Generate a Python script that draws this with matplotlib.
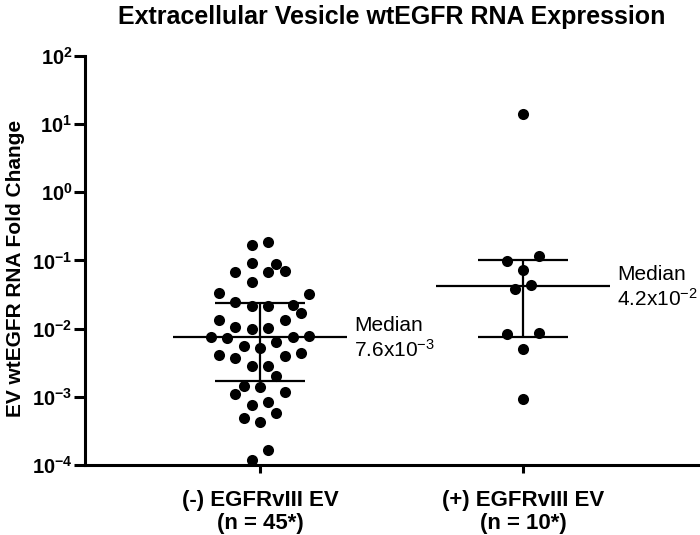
import numpy as np
import matplotlib
matplotlib.use("Agg")
import matplotlib.pyplot as plt
from matplotlib.ticker import FixedLocator, FuncFormatter, NullLocator

plt.rcParams['font.family'] = ['Liberation Sans', 'DejaVu Sans']
plt.rcParams['mathtext.fontset'] = 'custom'
plt.rcParams['mathtext.rm'] = 'Liberation Sans'
plt.rcParams['mathtext.bf'] = 'Liberation Sans:bold'
plt.rcParams['mathtext.it'] = 'Liberation Sans:italic'

# values
groups = ["(-) EGFRvIII EV", "(+) EGFRvIII EV"]
group_n = ["(n = 45*)", "(n = 10*)"]

neg_values = [0.168, 0.184, 0.0906, 0.0893, 0.0682, 0.0675, 0.0705, 0.0477,
              0.0336, 0.0318, 0.0248, 0.0214, 0.0214, 0.0222, 0.0168, 0.01336,
              0.01336, 0.01066, 0.00986, 0.0103, 0.0076, 0.0072, 0.00745, 0.00787,
              0.00561, 0.00525, 0.0063, 0.0041, 0.00374, 0.0040, 0.00434, 0.00283,
              0.00283, 0.00204, 0.00146, 0.00141, 0.0011, 0.00116, 0.00076, 0.00085,
              0.00058, 0.00049, 0.00042, 0.000166, 0.000119]
pos_values = [13.8, 0.0986, 0.1156, 0.0721, 0.0384, 0.043, 0.0083, 0.0087,
              0.00506, 0.000916]

# swarm column of each point (layout)
neg_slots = [-1, 1, -1, 2, -3, 1, 3, -1, -5, 6, -3, -1, 1, 4, 5, -5, 3, -3, -1, 1,
             -6, -4, 4, 6, -2, 0, 2, -5, -3, 3, 5, -1, 1, 2, -2, 0, -3, 3, -1, 1,
             2, -2, 0, 1, -1]
pos_slots = [0, -2, 2, 0, -1, 1, -2, 2, 0, 0]

medians = [7.6e-3, 4.2e-2]
median_text = ["Median\n7.6x10$^{-3}$", "Median\n4.2x10$^{-2}$"]
q1 = [1.7e-3, 7.45e-3]
q3 = [2.4e-2, 1.02e-1]

fig = plt.figure(figsize=(7, 5.35), dpi=100)
ax = fig.add_axes([85/700, 70/535, 613/700, 409.3/535])

slot_w = 0.03125
for i, (vals, slots) in enumerate([(neg_values, neg_slots), (pos_values, pos_slots)]):
    xs = i + np.array(slots) * slot_w
    ax.scatter(xs, vals, s=64, color="black", linewidths=0, zorder=3)
    ax.hlines(medians[i], i - 0.331, i + 0.331, color="black", lw=1.6, zorder=2)
    ax.hlines([q1[i], q3[i]], i - 0.171, i + 0.171, color="black", lw=1.6, zorder=2)
    ax.vlines(i, q1[i], q3[i], color="black", lw=1.6, zorder=2)
    ax.annotate(median_text[i], xy=(i + 0.331, medians[i]), xytext=(5, -1),
                textcoords="offset points", ha="left", va="center",
                fontsize=15, linespacing=1.2)

ax.set_yscale("log")
ax.set_ylim(1e-4, 1e2)
ax.set_xlim(-0.665, 1.665)
ax.yaxis.set_major_locator(FixedLocator([10.0**k for k in range(-4, 3)]))
ax.yaxis.set_minor_locator(NullLocator())
ax.yaxis.set_major_formatter(FuncFormatter(
    lambda v, p: r"$\mathbf{10^{%d}}$" % round(np.log10(v))))

ax.set_xticks([0, 1])
ax.set_xticklabels([g + "\n" + n for g, n in zip(groups, group_n)],
                   fontsize=16, fontweight="bold", linespacing=1.15)

for s in ["top", "right"]:
    ax.spines[s].set_visible(False)
for s in ["left", "bottom"]:
    ax.spines[s].set_linewidth(2.2)

ax.tick_params(axis="y", length=8, width=2.2, labelsize=14.5, pad=1)
ax.tick_params(axis="x", length=6, width=2.2, pad=12)

ax.set_ylabel("EV wtEGFR RNA Fold Change", fontsize=15, fontweight="bold")
ax.yaxis.set_label_coords(-0.098, 0.48)

fig.text(391.5/700, 1 - 17/535, "Extracellular Vesicle wtEGFR RNA Expression",
         ha="center", va="center", fontsize=18, fontweight="bold")

fig.savefig("out.png", dpi=100)
